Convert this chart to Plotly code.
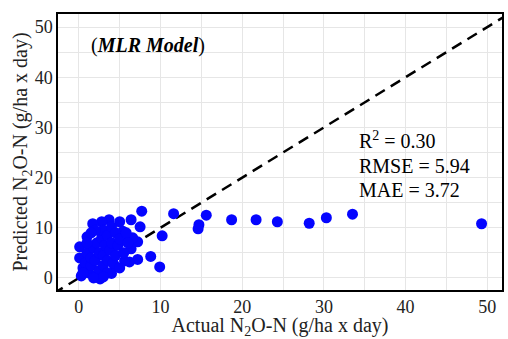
import plotly.graph_objects as go

actual = [15.6, 14.7, 14.6, 18.7, 21.7, 24.3, 28.2, 30.3, 33.5, 49.3,
          7.7, 11.6, 10.2, 9.9, 8.8, 7.2, 6.2, 5.6, 6.4, 7.5, 7.2, 6.6, 6.4, 5.0, 3.7, 2.8, 1.7, 1.0,
          0.1, 0.1, 0.3, 2.6, 4.0, 4.3, 5.2, 5.4,
          0.5, 0.8, 1.0, 1.2, 1.5, 1.5, 1.8, 2.0, 2.0, 2.2, 2.5, 2.5, 2.8, 3.0, 3.0, 3.0, 3.2, 3.5,
          3.5, 3.5, 3.8, 4.0, 4.0, 4.2, 4.5, 4.5, 4.8, 5.0, 5.0, 5.5, 5.8, 6.0, 1.0, 2.0, 1.5, 0.5,
          3.0, 1.8]
predicted = [12.5, 10.6, 9.8, 11.6, 11.6, 11.2, 10.9, 12.0, 12.7, 10.8,
             13.3, 12.8, 8.4, 2.2, 4.3, 3.7, 3.2, 3.4, 11.6, 10.2, 7.2, 8.0, 5.8, 11.2, 11.6, 11.2, 10.8, 8.2,
             6.2, 4.0, 0.4, -0.2, 0.9, 2.6, 8.4, 9.3,
             2.0, 3.0, 5.0, 1.0, 2.5, 4.0, 6.0, 0.5, 3.5, 7.0, 1.5, 5.0, 8.0, 2.5, 4.5, 9.5, 6.5, 1.0,
             3.5, 8.5, 5.5, 7.0, 10.2, 3.0, 4.5, 9.0, 6.5, 2.0, 7.8, 5.0, 9.0, 7.0, 7.0, 9.5, 9.0, 1.0,
             0.2, 0.0]

ticks = [0, 10, 20, 30, 40, 50]
line_xy = [-5, 60]

font = "Liberation Serif, Times New Roman, serif"

fig = go.Figure()
fig.add_trace(go.Scatter(x=line_xy, y=line_xy, mode="lines",
                         line=dict(color="black", width=2.5, dash="11px,7px"),
                         hoverinfo="skip", showlegend=False))
fig.add_trace(go.Scatter(x=actual, y=predicted, mode="markers",
                         marker=dict(color="#0505ff", size=11, line=dict(width=0)),
                         showlegend=False, cliponaxis=False))

axis_common = dict(
    tickvals=ticks, showgrid=True, gridcolor="#e6e6e6", gridwidth=1,
    minor=dict(dtick=5, showgrid=True, gridcolor="#e6e6e6", gridwidth=1),
    showline=True, linecolor="black", linewidth=1.5, mirror=True,
    zeroline=False, ticks="", automargin=False,
    tickfont=dict(family=font, size=18, color="#222"),
)
fig.update_xaxes(range=[-2.55, 51.8], title=dict(text="Actual N<sub>2</sub>O-N (g/ha x day)",
                 font=dict(family=font, size=20, color="#222"), standoff=0), **axis_common)
fig.update_yaxes(range=[-2.4, 52.6], title=dict(text="Predicted N<sub>2</sub>O-N (g/ha x day)",
                 font=dict(family=font, size=20, color="#222"), standoff=0), **axis_common)

fig.add_annotation(x=1.2, y=46.4, xanchor="left", yanchor="middle", showarrow=False,
                   text="(<b><i>MLR Model</i></b>)", font=dict(family=font, size=20, color="black"))
stats = ["R<sup>2</sup> = 0.30", "RMSE = 5.94", "MAE = 3.72"]
stat_y = [27.5, 22.3, 17.6]
for s, yy in zip(stats, stat_y):
    fig.add_annotation(x=34.1, y=yy, xanchor="left", yanchor="middle", showarrow=False,
                       text=s, font=dict(family=font, size=20, color="black"))

fig.update_layout(width=508, height=339, margin=dict(l=58, r=6, t=14, b=49),
                  plot_bgcolor="white", paper_bgcolor="white")
fig.write_html("out.html", config={"displayModeBar": False},
               post_script="document.body.style.margin='0';document.body.style.overflow='hidden';")
